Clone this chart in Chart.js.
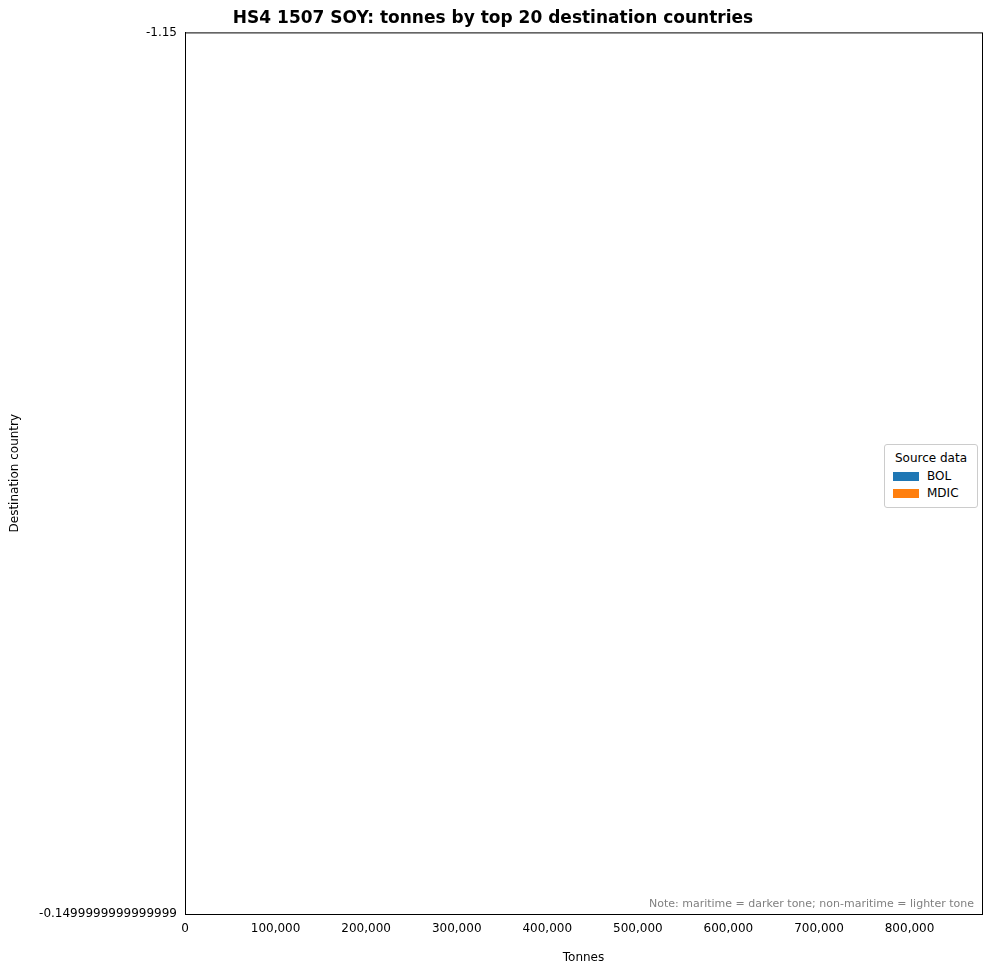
<!DOCTYPE html>
<html><head><meta charset="utf-8">
<script src="https://cdn.jsdelivr.net/npm/chart.js@4/dist/chart.umd.min.js"></script>
<style>
body{margin:0;background:#fff;font-family:"DejaVu Sans",sans-serif}
#wrap{position:relative;width:991px;height:969px}
#legend{position:absolute;left:884px;top:444px;width:92px;border:1px solid #ccc;border-radius:3px;background:#fff;font-size:12px;padding:3px 0 4px 0}
#legend div{margin:3px 8px;white-space:nowrap}
#legend span{display:inline-block;width:26px;height:9px;margin-right:8px;vertical-align:middle}
#note{position:absolute;right:17px;top:897px;font-size:11px;color:#808080}
</style></head><body>
<div id="wrap">
<canvas id="c" width="991" height="969"></canvas>
<div id="legend"><div style="text-align:center;margin-bottom:4px">Source data</div>
<div><span style="background:#1f77b4"></span>BOL</div>
<div><span style="background:#ff7f0e"></span>MDIC</div></div>
<div id="note">Note: maritime = darker tone; non-maritime = lighter tone</div>
</div>
<script>
const countries = ['INDIA','BANGLADESH','CHINA (MAINLAND)','ALGERIA','VENEZUELA','PERU','CUBA','MALAYSIA','DOMINICAN REPUBLIC','SOUTH AFRICA','NETHERLANDS','UNITED STATES','URUGUAY','SPAIN','CHILE','HONDURAS','GUYANA','COLOMBIA','PANAMA','NIGERIA'];
const bolMaritime    = [636318,172335,126769,72002,7000,18500,27313,26950,14452,13560,11324,10585,0,6840,0,2358,0,3501,2220,2500];
const bolNonMaritime = [0,0,0,0,50371,10039,0,0,0,0,0,0,4906,0,2905,0,2733,0,0,0];
const mdicMaritime    = [788252,141359,150571,107504,14000,17500,25258,12950,16636,null,300,535,0,null,2887,3388,2963,2001,3105,2500];
const mdicNonMaritime = [0,0,0,0,49662,9831,0,0,0,null,0,0,4906,null,0,0,0,0,0,0];
const xTicks = [0,100000,200000,300000,400000,500000,600000,700000,800000];

const fmt = v => v.toLocaleString('en-US');

const labelPlugin = {
  id: 'totals',
  afterDatasetsDraw(chart) {
    const ctx = chart.ctx;
    const x = chart.scales.x;
    ctx.save();
    ctx.font = '11px "DejaVu Sans"';
    ctx.fillStyle = '#000';
    ctx.textBaseline = 'middle';
    countries.forEach((c, i) => {
      [[0, bolMaritime[i] + bolNonMaritime[i], -3], [2, mdicMaritime[i] === null ? null : mdicMaritime[i] + mdicNonMaritime[i], 3]].forEach(([ds, total, dy]) => {
        if (total === null || !total) return;
        const el = chart.getDatasetMeta(ds).data[i];
        ctx.fillText(fmt(total), x.getPixelForValue(total) + 6, el.y + dy);
      });
    });
    ctx.restore();
  }
};

new Chart(document.getElementById('c'), {
  type: 'bar',
  data: {
    labels: countries,
    datasets: [
      {label: 'BOL maritime', data: bolMaritime, backgroundColor: '#1f6aa0', stack: 'BOL'},
      {label: 'BOL non-maritime', data: bolNonMaritime, backgroundColor: '#7fb3da', stack: 'BOL'},
      {label: 'MDIC maritime', data: mdicMaritime, backgroundColor: '#dc6a10', stack: 'MDIC'},
      {label: 'MDIC non-maritime', data: mdicNonMaritime, backgroundColor: '#fdb77e', stack: 'MDIC'}
    ]
  },
  options: {
    indexAxis: 'y',
    responsive: false,
    animation: false,
    layout: {padding: {left: 4, right: 9, top: 0, bottom: 0}},
    datasets: {bar: {barThickness: 7}},
    plugins: {
      legend: {display: false},
      tooltip: {enabled: false},
      title: {display: true, text: 'HS4 1507 SOY: tonnes by top 20 destination countries',
        color: '#000', font: {size: 17, weight: 'bold', family: 'DejaVu Sans'}, padding: {top: 8, bottom: 4}}
    },
    scales: {
      x: {stacked: true, min: 0, max: 880000,
        afterBuildTicks: s => { s.ticks = xTicks.map(v => ({value: v})); },
        afterFit: s => { s.height = 55; },
        ticks: {callback: v => fmt(v), color: '#000', font: {size: 12, family: 'DejaVu Sans'}, maxRotation: 0},
        grid: {display: false, drawTicks: true, tickLength: 5, color: '#000'},
        border: {color: '#000'},
        title: {display: true, text: 'Tonnes', color: '#000', font: {size: 12, family: 'DejaVu Sans'}, padding: {top: 0}}},
      y: {stacked: true, offset: false,
        afterBuildTicks: s => { s.min = -1.15; s.max = 20.0; },
        afterFit: s => { s.width = 181; },
        ticks: {color: '#000', font: {size: 12, family: 'DejaVu Sans'}},
        grid: {display: false, tickLength: 5, color: '#000'},
        border: {color: '#000'},
        title: {display: true, text: 'Destination country', color: '#000', font: {size: 12, family: 'DejaVu Sans'}}}
    }
  },
  plugins: [labelPlugin, {
    id: 'frame',
    afterDraw(chart) {
      const a = chart.chartArea, ctx = chart.ctx;
      ctx.save(); ctx.strokeStyle = '#000'; ctx.lineWidth = 1;
      ctx.strokeRect(a.left + 0.5, a.top + 0.5, a.right - a.left, a.bottom - a.top);
      ctx.restore();
    }
  }]
});
</script>
</body></html>
